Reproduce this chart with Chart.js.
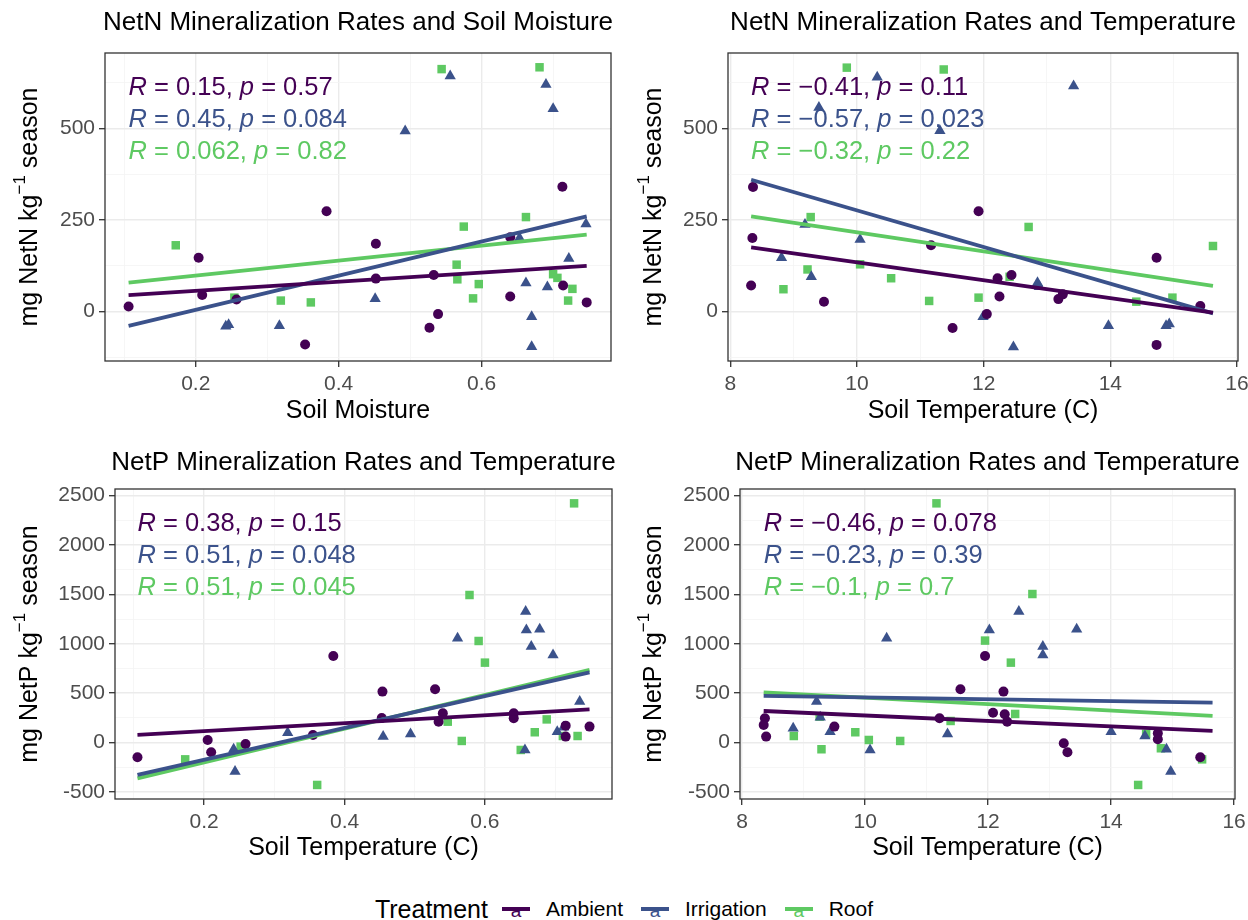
<!DOCTYPE html>
<html>
<head>
<meta charset="utf-8">
<script src="https://cdn.jsdelivr.net/npm/chart.js@4.4.1/dist/chart.umd.min.js"></script>
<style>
  body { margin: 0; background: #fff; }
  #wrap { position: relative; width: 1248px; height: 920px; overflow: hidden; font-family: 'Liberation Sans', Arial, sans-serif; }
  #wrap canvas { position: absolute; }
  #legend { position: absolute; left: 0; top: 889px; width: 1248px; height: 40px; display: flex; justify-content: center; align-items: center; color: #000; }
  .ltitle { font-size: 25px; margin-right: 14px; }
  .lkey { position: relative; width: 28px; height: 26px; margin-right: 16px; }
  .lkey .ln { position: absolute; left: 0; right: 0; top: 11px; height: 4px; }
  .lkey .la { position: absolute; left: 0; right: 0; top: 6px; text-align: center; font-size: 19px; line-height: 18px; }
  .llab { font-size: 21px; margin-right: 18px; }
  .llab:last-child { margin-right: 0; }
</style>
</head>
<body>
<div id="wrap">
  <canvas id="p1" width="624" height="440" style="left:0;top:0"></canvas>
  <canvas id="p2" width="624" height="440" style="left:624px;top:0"></canvas>
  <canvas id="p3" width="624" height="440" style="left:0;top:440px"></canvas>
  <canvas id="p4" width="624" height="440" style="left:624px;top:440px"></canvas>
  <div id="legend"><span class="ltitle">Treatment</span></div>
</div>
<script>
const FONT = "'Liberation Sans', Arial, sans-serif";

const treatments = ['Ambient', 'Irrigation', 'Roof'];
const treatmentColors = ['#440154', '#3B528B', '#5EC962'];

// tick values
const moistTicks = [0.2, 0.4, 0.6];
const moistMinor = [0.1, 0.3, 0.5, 0.7];
const tempTicks = [8, 10, 12, 14, 16];
const tempMinor = [9, 11, 13, 15];
const netNTicks = [0, 250, 500];
const netNMinor = [-125, 125, 375, 625];
const netPTicks = [-500, 0, 500, 1000, 1500, 2000, 2500];
const netPMinor = [-250, 250, 750, 1250, 1750, 2250];

// NetN vs soil moisture
const nMoistAmbient = [[0.106,14],[0.204,147],[0.209,45],[0.257,33],[0.353,-90],[0.383,274],[0.452,185],[0.452,90],[0.527,-44],[0.533,100],[0.539,-7],[0.640,41],[0.640,203],[0.713,341],[0.714,71],[0.747,25]];
const nMoistIrrigation = [[0.556,643],[0.690,620],[0.700,554],[0.493,493],[0.653,201],[0.746,239],[0.722,145],[0.662,78],[0.692,67],[0.451,35],[0.670,-14],[0.670,-96],[0.317,-39],[0.242,-40],[0.246,-36]];
const nMoistRoof = [[0.544,662],[0.681,667],[0.172,181],[0.575,232],[0.662,258],[0.565,128],[0.566,88],[0.596,75],[0.588,36],[0.319,30],[0.361,25],[0.254,38],[0.727,62],[0.721,30],[0.700,102],[0.706,92]];
const nMoistFits = [[[0.106,45],[0.747,125]], [[0.106,-39],[0.747,260]], [[0.106,79],[0.747,210]]];
const nMoistStats = [['0.15','0.57'], ['0.45','0.084'], ['0.062','0.82']];

// NetN vs soil temperature
const nTempAmbient = [[8.36,340],[8.35,201],[8.33,71],[9.48,27],[11.17,181],[11.92,274],[11.51,-45],[12.05,-7],[12.22,91],[12.25,41],[12.44,100],[13.18,34],[13.25,47],[14.73,147],[14.73,-91],[15.42,15]];
const nTempIrrigation = [[10.32,640],[13.42,616],[9.40,557],[11.31,494],[9.18,238],[10.05,197],[8.81,147],[9.28,95],[12.85,79],[12.88,68],[11.99,-14],[12.47,-97],[13.97,-39],[14.88,-39],[14.93,-34]];
const nTempRoof = [[9.84,666],[11.37,661],[9.27,258],[12.71,231],[15.62,179],[10.05,129],[9.22,115],[10.54,91],[8.84,61],[11.14,29],[11.92,38],[12.41,95],[14.41,27],[14.98,38]];
const nTempFits = [[[8.33,175],[15.62,-3]], [[8.33,360],[15.62,-5]], [[8.33,260],[15.62,70]]];
const nTempStats = [['\u22120.41','0.11'], ['\u22120.57','0.023'], ['\u22120.32','0.22']];

// NetP vs soil moisture
const pMoistAmbient = [[0.105,-148],[0.205,27],[0.210,-98],[0.259,-13],[0.355,78],[0.384,876],[0.453,250],[0.454,516],[0.529,539],[0.534,212],[0.540,297],[0.641,297],[0.641,246],[0.715,172],[0.715,61],[0.749,162]];
const pMoistIrrigation = [[0.658,1325],[0.659,1139],[0.678,1146],[0.561,1055],[0.666,971],[0.697,887],[0.735,415],[0.455,61],[0.494,88],[0.319,101],[0.242,-67],[0.244,-293],[0.657,-74],[0.703,111],[0.712,155]];
const pMoistRoof = [[0.727,2420],[0.578,1493],[0.591,1028],[0.600,809],[0.688,235],[0.711,67],[0.732,67],[0.671,105],[0.651,-74],[0.547,212],[0.567,17],[0.361,-428],[0.252,-40],[0.173,-169]];
const pMoistFits = [[[0.105,78],[0.749,337]], [[0.105,-327],[0.749,711]], [[0.105,-361],[0.749,735]]];
const pMoistStats = [['0.38','0.15'], ['0.51','0.048'], ['0.51','0.045']];

// NetP vs soil temperature
const pTempAmbient = [[8.37,246],[8.35,179],[8.39,61],[9.50,162],[11.21,246],[11.55,539],[11.95,876],[12.08,303],[12.25,516],[12.27,287],[12.31,212],[13.23,-7],[13.29,-98],[14.76,94],[14.76,34],[15.45,-148]];
const pTempIrrigation = [[10.35,1055],[12.02,1139],[12.50,1325],[13.44,1146],[12.89,971],[12.89,887],[9.21,415],[8.83,145],[9.27,256],[9.43,111],[10.08,-74],[11.34,88],[14.00,111],[14.55,67],[14.90,-67],[14.97,-293]];
const pTempRoof = [[11.16,2420],[12.72,1503],[11.95,1032],[12.37,809],[9.26,263],[8.84,67],[9.29,-67],[9.84,105],[10.06,27],[10.57,17],[11.39,219],[12.44,290],[14.57,88],[14.44,-428],[14.81,-57],[15.48,-169]];
const pTempFits = [[[8.35,320],[15.65,118]], [[8.35,472],[15.65,405]], [[8.35,509],[15.65,270]]];
const pTempStats = [['\u22120.46','0.078'], ['\u22120.23','0.39'], ['\u22120.1','0.7']];

const pointStyles = ['circle', 'triangle', 'rect'];
const pointSizes = [5, 6.5, 6];

const panels = [
  { id: 'p1', area: { left: 105, right: 611, top: 53, bottom: 361 },
    title: 'NetN Mineralization Rates and Soil Moisture', xTitle: 'Soil Moisture', yName: 'mg NetN kg',
    xRange: [0.073, 0.781], yRange: [-135, 706], xMajor: moistTicks, xMinor: moistMinor, yMajor: netNTicks, yMinor: netNMinor,
    points: [nMoistAmbient, nMoistIrrigation, nMoistRoof], fits: nMoistFits, stats: nMoistStats, xTitleY: 411 },
  { id: 'p2', area: { left: 104, right: 614, top: 53, bottom: 361 },
    title: 'NetN Mineralization Rates and Temperature', xTitle: 'Soil Temperature (C)', yName: 'mg NetN kg',
    xRange: [7.965, 16.015], yRange: [-135, 706], xMajor: tempTicks, xMinor: tempMinor, yMajor: netNTicks, yMinor: netNMinor,
    points: [nTempAmbient, nTempIrrigation, nTempRoof], fits: nTempFits, stats: nTempStats, xTitleY: 411 },
  { id: 'p3', area: { left: 115, right: 612, top: 49, bottom: 359 },
    title: 'NetP Mineralization Rates and Temperature', xTitle: 'Soil Temperature (C)', yName: 'mg NetP kg',
    xRange: [0.073, 0.781], yRange: [-570, 2565], xMajor: moistTicks, xMinor: moistMinor, yMajor: netPTicks, yMinor: netPMinor,
    points: [pMoistAmbient, pMoistIrrigation, pMoistRoof], fits: pMoistFits, stats: pMoistStats, xTitleY: 408 },
  { id: 'p4', area: { left: 116, right: 611, top: 49, bottom: 359 },
    title: 'NetP Mineralization Rates and Temperature', xTitle: 'Soil Temperature (C)', yName: 'mg NetP kg',
    xRange: [7.965, 16.015], yRange: [-570, 2565], xMajor: tempTicks, xMinor: tempMinor, yMajor: netPTicks, yMinor: netPMinor,
    points: [pTempAmbient, pTempIrrigation, pTempRoof], fits: pTempFits, stats: pTempStats, xTitleY: 408 }
];

function drawStat(ctx, x, y, r, p, color) {
  const parts = [['R', true], [' = ' + r + ', ', false], ['p', true], [' = ' + p, false]];
  ctx.fillStyle = color;
  ctx.textBaseline = 'middle';
  ctx.textAlign = 'left';
  parts.forEach(([txt, italic]) => {
    ctx.font = (italic ? 'italic ' : '') + '25.5px ' + FONT;
    ctx.fillText(txt, x, y);
    x += ctx.measureText(txt).width;
  });
}

function drawYTitle(ctx, cx, cy, name) {
  const tail = ' season';
  ctx.save();
  ctx.translate(cx, cy);
  ctx.rotate(-Math.PI / 2);
  ctx.fillStyle = '#000';
  ctx.textBaseline = 'middle';
  ctx.textAlign = 'left';
  ctx.font = '25px ' + FONT;
  const w1 = ctx.measureText(name).width;
  const w3 = ctx.measureText(tail).width;
  ctx.font = '17px ' + FONT;
  const w2 = ctx.measureText('\u22121').width;
  let x = -(w1 + w2 + w3) / 2;
  ctx.font = '25px ' + FONT;
  ctx.fillText(name, x, 0);
  x += w1;
  ctx.font = '17px ' + FONT;
  ctx.fillText('\u22121', x, -10);
  x += w2;
  ctx.font = '25px ' + FONT;
  ctx.fillText(tail, x, 0);
  ctx.restore();
}

function decor(panel) {
  return {
    id: 'decor',
    afterDatasetsDraw(chart) {
      const { ctx, chartArea: a, scales } = chart;
      ctx.save();
      ctx.strokeStyle = '#333333';
      ctx.lineWidth = 1.3;
      ctx.strokeRect(a.left, a.top, a.right - a.left, a.bottom - a.top);
      const x0 = scales.x.getPixelForValue(panel.fits[0][0][0]);
      panel.stats.forEach((s, i) => drawStat(ctx, x0, a.top + 35 + i * 32, s[0], s[1], treatmentColors[i]));
      ctx.restore();
    },
    afterDraw(chart) {
      const { ctx, chartArea: a } = chart;
      const cx = (a.left + a.right) / 2;
      ctx.save();
      ctx.fillStyle = '#000';
      ctx.textAlign = 'center';
      ctx.textBaseline = 'middle';
      ctx.font = '26px ' + FONT;
      ctx.fillText(panel.title, cx, 23);
      ctx.font = '25px ' + FONT;
      ctx.fillText(panel.xTitle, cx, panel.xTitleY);
      ctx.restore();
      drawYTitle(ctx, 30, (a.top + a.bottom) / 2, panel.yName);
    }
  };
}

function axis(range, major, minor, isX, area) {
  const all = major.concat(minor).sort((a, b) => a - b);
  const isMajor = v => major.includes(v);
  return {
    type: 'linear',
    min: range[0],
    max: range[1],
    afterBuildTicks: s => { s.ticks = all.map(v => ({ value: v })); },
    afterFit: s => {
      if (isX) { s.height = 440 - area.bottom; s.paddingLeft = 0; s.paddingRight = 0; }
      else { s.width = area.left; s.paddingTop = 0; s.paddingBottom = 0; }
    },
    ticks: {
      autoSkip: false,
      maxRotation: 0,
      padding: isX ? 5 : 4,
      color: '#4D4D4D',
      font: { size: 21, family: FONT },
      callback: v => isMajor(v) ? String(v) : ''
    },
    grid: {
      color: c => isMajor(c.tick.value) ? '#EBEBEB' : '#F4F4F4',
      lineWidth: c => isMajor(c.tick.value) ? 1.4 : 0.8,
      tickLength: 6,
      tickWidth: 1.3,
      tickColor: c => isMajor(c.tick.value) ? '#333333' : 'rgba(0,0,0,0)'
    },
    border: { display: false }
  };
}

panels.forEach(panel => {
  const datasets = [];
  panel.points.forEach((pts, i) => {
    datasets.push({
      label: treatments[i],
      data: pts.map(([x, y]) => ({ x, y })),
      pointStyle: pointStyles[i],
      pointRadius: pointSizes[i],
      backgroundColor: treatmentColors[i],
      borderWidth: 0,
      order: 1
    });
  });
  panel.fits.forEach((pts, i) => {
    datasets.push({
      type: 'line',
      label: treatments[i] + ' fit',
      data: pts.map(([x, y]) => ({ x, y })),
      borderColor: treatmentColors[i],
      borderWidth: 3.8,
      pointRadius: 0,
      fill: false,
      order: 0
    });
  });
  new Chart(document.getElementById(panel.id), {
    type: 'scatter',
    data: { datasets },
    options: {
      responsive: false,
      animation: false,
      layout: { padding: { left: 0, bottom: 0, top: panel.area.top, right: 624 - panel.area.right } },
      plugins: { legend: { display: false }, tooltip: { enabled: false } },
      scales: {
        x: axis(panel.xRange, panel.xMajor, panel.xMinor, true, panel.area),
        y: axis(panel.yRange, panel.yMajor, panel.yMinor, false, panel.area)
      }
    },
    plugins: [decor(panel)]
  });
});

// legend
const legend = document.getElementById('legend');
treatments.forEach((name, i) => {
  const key = document.createElement('span');
  key.className = 'lkey';
  key.innerHTML = '<span class="ln" style="background:' + treatmentColors[i] + '"></span>' +
    '<span class="la" style="color:' + treatmentColors[i] + '">a</span>';
  const lab = document.createElement('span');
  lab.className = 'llab';
  lab.textContent = name;
  legend.appendChild(key);
  legend.appendChild(lab);
});
</script>
</body>
</html>
